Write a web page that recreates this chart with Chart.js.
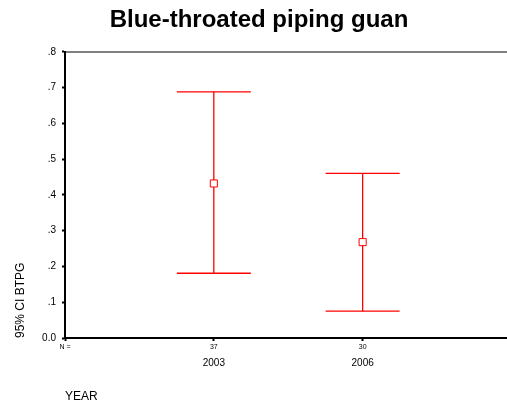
<!DOCTYPE html>
<html>
<head>
<meta charset="utf-8">
<script src="https://cdn.jsdelivr.net/npm/chart.js@4"></script>
<style>
    body { margin: 0; background: #fff; }
    canvas { display: block; }
</style>
</head>
<body>
<canvas id="grafico" width="507" height="409"></canvas>
<script>
const years = ['2003', '2006'];
const counts = [37, 30];
const means = [0.432, 0.268];
const lowers = [0.181, 0.075];
const uppers = [0.688, 0.460];
const yTicks = [0, 0.1, 0.2, 0.3, 0.4, 0.5, 0.6, 0.7, 0.8];

const fuente = 'Arial, "Liberation Sans", sans-serif';

function linea(ctx, x1, y1, x2, y2) {
    ctx.beginPath();
    ctx.strokeStyle = 'rgb(255, 0, 0)';
    ctx.lineWidth = 1.3;
    ctx.moveTo(x1, y1);
    ctx.lineTo(x2, y2);
    ctx.stroke();
}

// barras de error (IC 95%) dibujadas con las escalas del grafico
const barrasError = {
    id: 'barrasError',
    beforeDatasetsDraw(chart) {
        const ctx = chart.ctx;
        const x = chart.scales.x;
        const y = chart.scales.y;
        ctx.save();
        years.forEach((anio, i) => {
            const px = x.getPixelForValue(i + 1);
            const arriba = y.getPixelForValue(uppers[i]);
            const abajo = y.getPixelForValue(lowers[i]);
            linea(ctx, px, arriba, px, abajo);
            linea(ctx, px - 37, arriba, px + 37, arriba);
            linea(ctx, px - 37, abajo, px + 37, abajo);
        });
        ctx.restore();
    }
};

function fijarTicks(valores) {
    return scale => {
        scale.ticks = valores.map(v => ({ value: v }));
    };
}

function altoFijo(h) {
    return s => {
        s.height = h;
        s.paddingLeft = 0;
        s.paddingRight = 0;
    };
}

new Chart(document.getElementById('grafico'), {
    type: 'scatter',
    data: {
        datasets: [{
            data: means.map((m, i) => ({ x: i + 1, y: m })),
            pointStyle: 'rect',
            pointRadius: 5,
            pointBorderWidth: 1,
            pointBorderColor: '#ff0000',
            pointBackgroundColor: '#ffffff',
            xAxisID: 'x',
            yAxisID: 'y'
        }]
    },
    options: {
        responsive: false,
        animation: false,
        devicePixelRatio: 1,
        layout: { autoPadding: false, padding: { left: 11, right: 0, top: 0, bottom: 0 } },
        plugins: {
            legend: { display: false },
            tooltip: { enabled: false },
            title: {
                display: true,
                text: 'Blue-throated piping guan',
                color: '#000',
                font: { family: fuente, size: 24, weight: 'bold', lineHeight: 1.2 },
                padding: { top: 6, bottom: 17 }
            }
        },
        scales: {
            xTop: {
                type: 'linear',
                position: 'top',
                min: 0,
                max: 2.97,
                ticks: { display: false },
                grid: { display: false },
                border: { display: true, color: '#808080', width: 2 },
                afterFit: altoFijo(0)
            },
            x: {
                type: 'linear',
                position: 'bottom',
                weight: 0,
                min: 0,
                max: 2.97,
                afterBuildTicks: fijarTicks([0, 1, 2]),
                ticks: {
                    autoSkip: false,
                    maxRotation: 0,
                    color: '#000',
                    padding: 2,
                    font: { family: fuente, size: 7 },
                    callback: v => v === 0 ? 'N =' : String(counts[v - 1])
                },
                grid: {
                    drawOnChartArea: false,
                    color: '#000',
                    tickLength: 3,
                    tickWidth: 2
                },
                border: { display: true, color: '#000', width: 2 },
                afterFit: altoFijo(18)
            },
            xYear: {
                type: 'linear',
                position: 'bottom',
                weight: 1,
                min: 0,
                max: 2.97,
                afterBuildTicks: fijarTicks([1, 2]),
                ticks: {
                    autoSkip: false,
                    maxRotation: 0,
                    color: '#000',
                    padding: -7,
                    font: { family: fuente, size: 10 },
                    callback: v => years[v - 1]
                },
                grid: { display: false },
                border: { display: false },
                title: {
                    display: true,
                    text: 'YEAR',
                    align: 'start',
                    color: '#000',
                    font: { family: fuente, size: 12 },
                    padding: { top: 0, bottom: 5 }
                },
                afterFit: altoFijo(53)
            },
            y: {
                type: 'linear',
                position: 'left',
                min: 0,
                max: 0.8,
                afterBuildTicks: fijarTicks(yTicks),
                ticks: {
                    color: '#000',
                    padding: 6,
                    font: { family: fuente, size: 10 },
                    callback: v => v === 0 ? '0.0' : '.' + Math.round(v * 10)
                },
                grid: {
                    drawOnChartArea: false,
                    color: '#000',
                    tickLength: 3,
                    tickWidth: 2
                },
                border: { display: true, color: '#000', width: 2 },
                title: {
                    display: true,
                    text: '95% CI BTPG',
                    align: 'start',
                    color: '#000',
                    font: { family: fuente, size: 12 },
                    padding: { top: 2, bottom: 0 }
                },
                afterFit: s => { s.width = 54; }
            }
        }
    },
    plugins: [barrasError]
});
</script>
</body>
</html>
